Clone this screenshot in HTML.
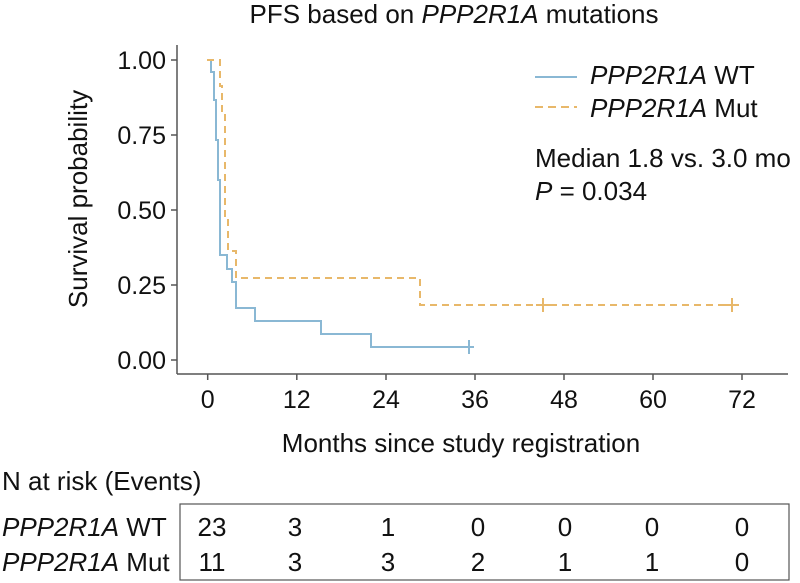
<!DOCTYPE html>
<html><head><meta charset="utf-8"><style>
body{margin:0;background:#fff;}
svg{display:block;font-family:"Liberation Sans",sans-serif;}
</style></head><body>
<svg width="800" height="583" viewBox="0 0 800 583">
<text x="454" y="23" font-size="26" text-anchor="middle" fill="#111">PFS based on <tspan font-style="italic">PPP2R1A</tspan> mutations</text>
<g stroke="#555" stroke-width="1.5" fill="none">
<line x1="177" y1="45" x2="177" y2="374"/>
<line x1="177" y1="374" x2="788" y2="374"/>
<line x1="171" y1="60" x2="177" y2="60"/><line x1="171" y1="135" x2="177" y2="135"/><line x1="171" y1="210" x2="177" y2="210"/><line x1="171" y1="285" x2="177" y2="285"/><line x1="171" y1="360" x2="177" y2="360"/>
<line x1="207.7" y1="374" x2="207.7" y2="380"/><line x1="296.8" y1="374" x2="296.8" y2="380"/><line x1="386" y1="374" x2="386" y2="380"/><line x1="475" y1="374" x2="475" y2="380"/><line x1="564" y1="374" x2="564" y2="380"/><line x1="653" y1="374" x2="653" y2="380"/><line x1="742" y1="374" x2="742" y2="380"/>
</g>
<g font-size="25" fill="#111" text-anchor="end">
<text x="166" y="69">1.00</text><text x="166" y="144">0.75</text><text x="166" y="219">0.50</text><text x="166" y="294">0.25</text><text x="166" y="369">0.00</text>
</g>
<g font-size="25" fill="#111" text-anchor="middle">
<text x="207.7" y="408">0</text><text x="296.8" y="408">12</text><text x="386" y="408">24</text><text x="475" y="408">36</text><text x="564" y="408">48</text><text x="653" y="408">60</text><text x="742" y="408">72</text>
</g>
<text x="461" y="452" font-size="26" text-anchor="middle" fill="#111">Months since study registration</text>
<text transform="translate(87,199) rotate(-90)" font-size="26" text-anchor="middle" fill="#111">Survival probability</text>
<polyline fill="none" stroke="#8ab8d4" stroke-width="2" points="207,60 211,60 211,72 214,72 214,100 216,100 216,140 218,140 218,180 220,180 220,255 227,255 227,269 232,269 232,282 236,282 236,308 255,308 255,321 321,321 321,334 371,334 371,347 474,347"/>
<line x1="469" y1="340" x2="469" y2="354" stroke="#8ab8d4" stroke-width="2"/>
<polyline fill="none" stroke="#e8b86a" stroke-width="2" stroke-dasharray="7,5" points="207,60 220,60 220,86 222,86 222,114 225,114 225,220 228,220 228,251 236,251 236,278 420,278 420,305 737,305"/>
<g stroke="#e8b86a" stroke-width="2"><line x1="543" y1="298" x2="543" y2="312"/><line x1="536" y1="305" x2="550" y2="305"/><line x1="732" y1="298" x2="732" y2="312"/><line x1="725" y1="305" x2="739" y2="305"/></g>
<line x1="535" y1="77" x2="577" y2="77" stroke="#8ab8d4" stroke-width="2"/>
<line x1="535" y1="107" x2="577" y2="107" stroke="#e8b86a" stroke-width="2" stroke-dasharray="8,5"/>
<g font-size="26" fill="#111">
<text x="590" y="84"><tspan font-style="italic">PPP2R1A</tspan> WT</text>
<text x="590" y="117"><tspan font-style="italic">PPP2R1A</tspan> Mut</text>
<text x="535" y="167">Median 1.8 vs. 3.0 mo</text>
<text x="535" y="200"><tspan font-style="italic">P</tspan> = 0.034</text>
</g>
<text x="2" y="490" font-size="26" fill="#111">N at risk (Events)</text>
<rect x="180" y="504" width="609" height="76" fill="none" stroke="#555" stroke-width="1.2"/>
<g font-size="26" fill="#111">
<text x="2" y="536"><tspan font-style="italic">PPP2R1A</tspan> WT</text>
<text x="2" y="571"><tspan font-style="italic">PPP2R1A</tspan> Mut</text>
</g>
<g font-size="26" fill="#111" text-anchor="middle">
<text x="212" y="536">23</text><text x="295" y="536">3</text><text x="388" y="536">1</text><text x="478" y="536">0</text><text x="565" y="536">0</text><text x="652" y="536">0</text><text x="742" y="536">0</text>
<text x="212" y="571">11</text><text x="295" y="571">3</text><text x="388" y="571">3</text><text x="478" y="571">2</text><text x="565" y="571">1</text><text x="652" y="571">1</text><text x="742" y="571">0</text>
</g>
</svg>
</body></html>
